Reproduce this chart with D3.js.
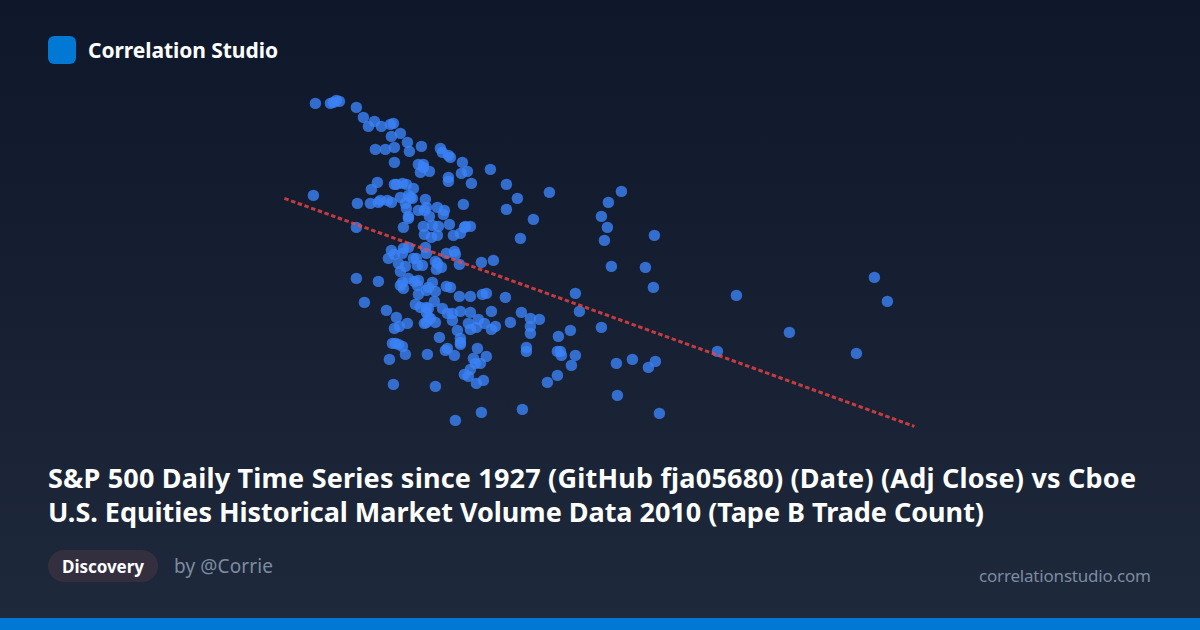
<!DOCTYPE html>
<html><head><meta charset="utf-8">
<script src="https://cdn.jsdelivr.net/npm/d3@7/dist/d3.min.js"></script>
<style>html,body{margin:0;padding:0;background:#0f172a}svg{display:block}text{font-family:"Noto Sans","Open Sans",sans-serif}</style>
</head><body><svg id="c" width="1200" height="630"></svg>
<script>
const brand = "Correlation Studio";
const titleLines = ["S&P 500 Daily Time Series since 1927 (GitHub fja05680) (Date) (Adj Close) vs Cboe","U.S. Equities Historical Market Volume Data 2010 (Tape B Trade Count)"];
const titleWidths = [1088,936];
const tag = "Discovery";
const author = "by @Corrie";
const site = "correlationstudio.com";
const adjClose = [
1015,1030,1033,1036,1039,1056,1063,1074,1068,1081,1090,1093,1091,1100,1107,1109,1121,1075,1085,1094,
1094,1140,1142,1148,1150,1162,1161,1167,1171,1190,1206,1217,1118,1123,1123,1120,1129,1148,1148,1077,
1071,1094,1096,1102,1106,1113,1013,1100,1110,1125,1057,1070,1080,1078,1087,1091,1105,1108,1112,1106,
1118,1126,1124,1137,1144,1143,1108,1108,1129,1163,1103,1123,1132,1138,1149,1165,1164,1170,1153,1160,
1124,1131,1137,1206,1220,1056,1091,1088,1094,1102,1103,1108,1125,1126,1116,1113,1117,1122,1135,1137,
1146,1154,1155,1159,1181,1193,1098,1105,1100,1136,1141,1056,1078,1102,1100,1103,1108,1114,1118,1117,
1132,1128,1126,1135,1118,1146,1150,1159,1170,1182,1186,1205,1134,1064,1086,1096,1094,1099,1107,1115,
1120,1126,1128,1142,1147,1152,1152,1160,1170,1191,1221,1128,1130,1126,1124,1135,1126,1168,1170,1176,
1178,1184,1191,1195,1210,1157,1160,1160,1160,1139,1092,1095,1098,1102,1105,1089,1127,1145,1147,1154,
1177,1186,1173,1175,1180,1170,1164,1168,1176,1183,1093,1135,1155,1181,1222,1249,1233,1321,1308,1301,
1307,1304,1354,1311,1345,1353,1275,1230,1239,1230,1230,1279,1270,1301,1258,1226,1226,1257,1260,1261,
1275,1271,1257,1247,1316,1332,1355,1348,1317,1359,1436,1417,1489,1556,1574,1587];
const tradeCount = [
317,317,318,320,319,313,303,299,294,294,296,297,284,287,278,269,274,271,271,273,
258,272,268,265,263,258,247,249,237,251,236,222,256,256,253,248,249,243,239,238,
231,236,236,237,236,232,225,223,223,221,217,217,220,218,220,218,217,225,222,212,
210,213,210,213,210,206,204,202,204,216,193,194,195,194,196,194,193,194,185,187,
186,183,185,211,182,193,170,162,166,167,172,173,173,167,162,162,155,155,159,157,
167,169,166,156,158,160,157,154,149,151,153,142,139,138,135,132,142,139,140,135,
138,133,130,129,126,134,133,124,124,126,127,123,119,118,110,103,92,94,97,116,
113,113,112,112,107,107,100,109,108,109,108,103,102,98,97,98,108,97,91,93,
101,97,91,94,98,90,82,78,76,83,77,77,76,74,66,61,66,70,72,65,
72,64,62,57,57,51,46,44,37,40,36,34,0,8,11,228,201,229,218,204,
193,180,185,154,153,133,127,102,101,94,87,109,90,93,84,73,69,69,69,65,
65,55,45,38,57,61,59,53,25,7,125,69,88,67,143,119];
const trendX = [984,1614];
const trendY = [222,-6];

const svg = d3.select("#c");
const defs = svg.append("defs");
const g = defs.append("linearGradient").attr("id","bg").attr("x1",0).attr("y1",0).attr("x2",0).attr("y2",1);
g.append("stop").attr("offset",0).attr("stop-color","#0f172a");
g.append("stop").attr("offset",1).attr("stop-color","#1e293b");
svg.append("rect").attr("width",1200).attr("height",630).attr("fill","url(#bg)");

const x = d3.scaleLinear().domain([1000,1600]).range([300.4,900.4]);
const y = d3.scaleLinear().domain([0,320]).range([420.4,100.4]);

svg.append("g").selectAll("circle").data(adjClose).join("circle")
  .attr("cx",d=>x(d)).attr("cy",(d,i)=>y(tradeCount[i])).attr("r",5.7)
  .attr("fill","#3b82f6").attr("fill-opacity",0.8);

const line = d3.line().x(d=>x(d[0])).y(d=>y(d[1]));
svg.append("path").attr("d",line(d3.zip(trendX,trendY))).attr("fill","none")
  .attr("stroke","#ef4444").attr("stroke-opacity",0.8).attr("stroke-width",3).attr("stroke-dasharray","4.5 2.6");

svg.append("rect").attr("x",48).attr("y",36).attr("width",28).attr("height",28).attr("rx",6).attr("fill","#0078d4");
svg.append("text").attr("x",88).attr("y",57.5).attr("fill","#fff").attr("font-size",21).attr("font-weight",700).attr("textLength",190).text(brand);
svg.append("g").selectAll("text").data(titleLines).join("text")
  .attr("x",48).attr("y",(d,i)=>488+i*34).attr("fill","#fff").attr("font-size",27).attr("font-weight",700)
  .attr("textLength",(d,i)=>titleWidths[i]).text(d=>d);
svg.append("rect").attr("x",48).attr("y",550).attr("width",110).attr("height",32).attr("rx",16).attr("fill","#332f3f");
svg.append("text").attr("x",62).attr("y",572.5).attr("fill","#fff").attr("font-size",17).attr("font-weight",700).attr("textLength",82).text(tag);
svg.append("text").attr("x",174).attr("y",572.5).attr("fill","#7c8ba1").attr("font-size",19).attr("textLength",99).text(author);
svg.append("text").attr("x",1151).attr("y",582).attr("text-anchor","end").attr("fill","#7c8ba1").attr("font-size",17).attr("textLength",172).text(site);
svg.append("rect").attr("x",0).attr("y",618).attr("width",1200).attr("height",12).attr("fill","#0078d4");
</script></body></html>
